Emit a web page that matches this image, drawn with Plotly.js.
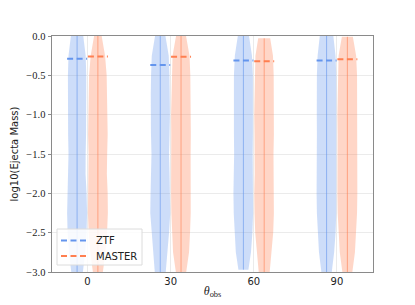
<!DOCTYPE html>
<html>
<head>
<meta charset="utf-8">
<script src="https://cdn.plot.ly/plotly-3.0.1.min.js"></script>
<style>html,body{margin:0;padding:0;background:#fff;}#chart{width:415px;height:305px;}</style>
</head>
<body>
<div id="chart"></div>
<script>
// ---- data ----
const thetas = [0, 30, 60, 90];
const xTickLabels = ["0", "30", "60", "90"];
const series = ["ZTF", "MASTER"];
// medians of log10(Ejecta Mass)
const ztfMedian = [-0.29, -0.37, -0.31, -0.31];
const masterMedian = [-0.26, -0.265, -0.32, -0.295];
// density profile levels (log10 mass) and relative densities (0..1)
const levels = [0, -0.25, -0.5, -0.75, -1, -1.25, -1.5, -1.75, -2, -2.25, -2.5, -2.75, -3];
const ztfDensity = [
  [0.62, 0.86, 0.92, 0.93, 0.92, 0.90, 0.86, 0.85, 0.95, 1.00, 0.95, 0.82, 0.58],
  [0.52, 0.85, 0.92, 0.95, 0.97, 0.93, 0.88, 0.93, 0.97, 1.00, 0.88, 0.72, 0.55],
  [0.56, 0.86, 0.95, 0.97, 0.97, 0.95, 0.93, 0.95, 1.00, 0.97, 0.90, 0.76, 0.50],
  [0.68, 0.90, 0.97, 0.98, 0.98, 0.97, 0.95, 0.97, 1.00, 0.97, 0.90, 0.76, 0.52]
];
const masterDensity = [
  [0.38, 0.72, 0.88, 0.92, 0.97, 0.98, 0.93, 0.90, 0.98, 1.00, 0.92, 0.76, 0.50],
  [0.50, 0.85, 0.93, 0.97, 1.00, 0.98, 0.96, 0.98, 1.00, 0.97, 0.90, 0.80, 0.52],
  [0.60, 0.88, 0.95, 0.97, 1.00, 0.97, 0.93, 0.95, 1.00, 0.97, 0.90, 0.76, 0.55],
  [0.55, 0.88, 0.97, 0.98, 1.00, 0.98, 0.96, 0.97, 1.00, 0.97, 0.90, 0.76, 0.50]
];
// extents of each violin inside the view
const ztfHigh = [0, 0, 0, 0];
const ztfLow = [-3, -3, -2.97, -3];
const masterHigh = [0, 0, -0.03, -0.01];
const masterLow = [-3, -3, -3, -3];

// ---- styling ----
const OFFSET = 3.75;   // dodge of each hue from the theta position
const HALF = 3.6;      // max half width of a violin (x units)
const colors = {
  ZTF: {line: "#6495ED", fill: "rgba(100,149,237,0.32)", stick: "rgba(100,149,237,0.6)"},
  MASTER: {line: "#FF7F50", fill: "rgba(255,127,80,0.32)", stick: "rgba(255,127,80,0.6)"}
};

const traces = [];
function addViolins(name, sign, dens, hi, lo, med) {
  const c = colors[name];
  thetas.forEach((t, i) => {
    const cx = t + sign * OFFSET;
    const ys = levels.slice();
    ys[0] = hi[i]; ys[ys.length - 1] = lo[i];
    const xs = [], yy = [];
    ys.forEach((y, k) => { xs.push(cx + dens[i][k] * HALF); yy.push(y); });
    for (let k = ys.length - 1; k >= 0; k--) { xs.push(cx - dens[i][k] * HALF); yy.push(ys[k]); }
    xs.push(xs[0]); yy.push(yy[0]);
    traces.push({x: xs, y: yy, type: "scatter", mode: "lines", fill: "toself",
      fillcolor: c.fill, line: {width: 0, color: c.fill, shape: "linear"},
      hoverinfo: "skip", showlegend: false});
    traces.push({x: [cx, cx], y: [hi[i], lo[i]], type: "scatter", mode: "lines",
      line: {width: 1, color: c.stick}, hoverinfo: "skip", showlegend: false});
  });
  // median dashes
  const mx = [], my = [];
  thetas.forEach((t, i) => {
    const cx = t + sign * OFFSET;
    mx.push(cx - HALF, cx + HALF, null);
    my.push(med[i], med[i], null);
  });
  traces.push({x: mx, y: my, type: "scatter", mode: "lines", name: name,
    line: {width: 2, color: c.line, dash: "6px,3.5px"}, connectgaps: false, showlegend: false});
}
addViolins("ZTF", -1, ztfDensity, ztfHigh, ztfLow, ztfMedian);
addViolins("MASTER", 1, masterDensity, masterHigh, masterLow, masterMedian);

// ---- manual legend (paper coordinates of the plot area) ----
const L = 52, R = 373, T = 36, B = 272;
const px = v => (v - L) / (R - L);
const py = v => (B - v) / (B - T);
const shapes = [];
const annotations = [];
// rounded legend box
(function () {
  const x0 = px(57), x1 = px(142), y0 = py(265), y1 = py(229);
  shapes.push({type: "rect", xref: "paper", yref: "paper", x0: x0, x1: x1, y0: y0, y1: y1,
    fillcolor: "rgba(255,255,255,0.85)", line: {color: "#dcdcdc", width: 1}, layer: "above"});
})();
series.forEach((s, k) => {
  const yc = k === 0 ? 240.5 : 256;
  shapes.push({type: "line", xref: "paper", yref: "paper", x0: px(61), x1: px(86), y0: py(yc), y1: py(yc),
    line: {color: colors[s].line, width: 2, dash: "6px,3.5px"}, layer: "above"});
  annotations.push({xref: "paper", yref: "paper", x: px(94), y: py(yc), xanchor: "left", yanchor: "middle",
    text: s, showarrow: false, font: {family: "DejaVu Sans", size: 10, color: "#222"}});
});

const layout = {
  width: 415, height: 305,
  margin: {l: 52, r: 42, t: 36, b: 33, pad: 0},
  paper_bgcolor: "#fff", plot_bgcolor: "#fff",
  showlegend: false,
  shapes: shapes, annotations: annotations,
  xaxis: {range: [-12.8, 103], tickmode: "array", tickvals: thetas, ticktext: xTickLabels,
    showgrid: true, gridcolor: "#ebebeb", gridwidth: 1, zeroline: false,
    showline: true, linecolor: "#8a8a8a", linewidth: 1, mirror: true, ticks: "",
    tickfont: {family: "DejaVu Sans", size: 10, color: "#222"},
    title: {text: "<i>θ</i><sub>obs</sub>", font: {family: "Liberation Serif", size: 12, color: "#222"}, standoff: 0}},
  yaxis: {range: [-3, 0], tickmode: "array", tickvals: [0, -0.5, -1, -1.5, -2, -2.5, -3],
    ticktext: ["0.0", "−0.5", "−1.0", "−1.5", "−2.0", "−2.5", "−3.0"],
    showgrid: true, gridcolor: "#ebebeb", gridwidth: 1, zeroline: false,
    showline: true, linecolor: "#8a8a8a", linewidth: 1, mirror: true,
    ticks: "outside", ticklen: 3.5, tickcolor: "#8a8a8a", tickwidth: 1,
    tickfont: {family: "Liberation Serif", size: 10.5, color: "#222"},
    title: {text: "log10(Ejecta Mass)", font: {family: "DejaVu Sans", size: 10, color: "#222"}, standoff: 5}}
};
Plotly.newPlot("chart", traces, layout, {displayModeBar: false, staticPlot: true});
</script>
</body>
</html>
